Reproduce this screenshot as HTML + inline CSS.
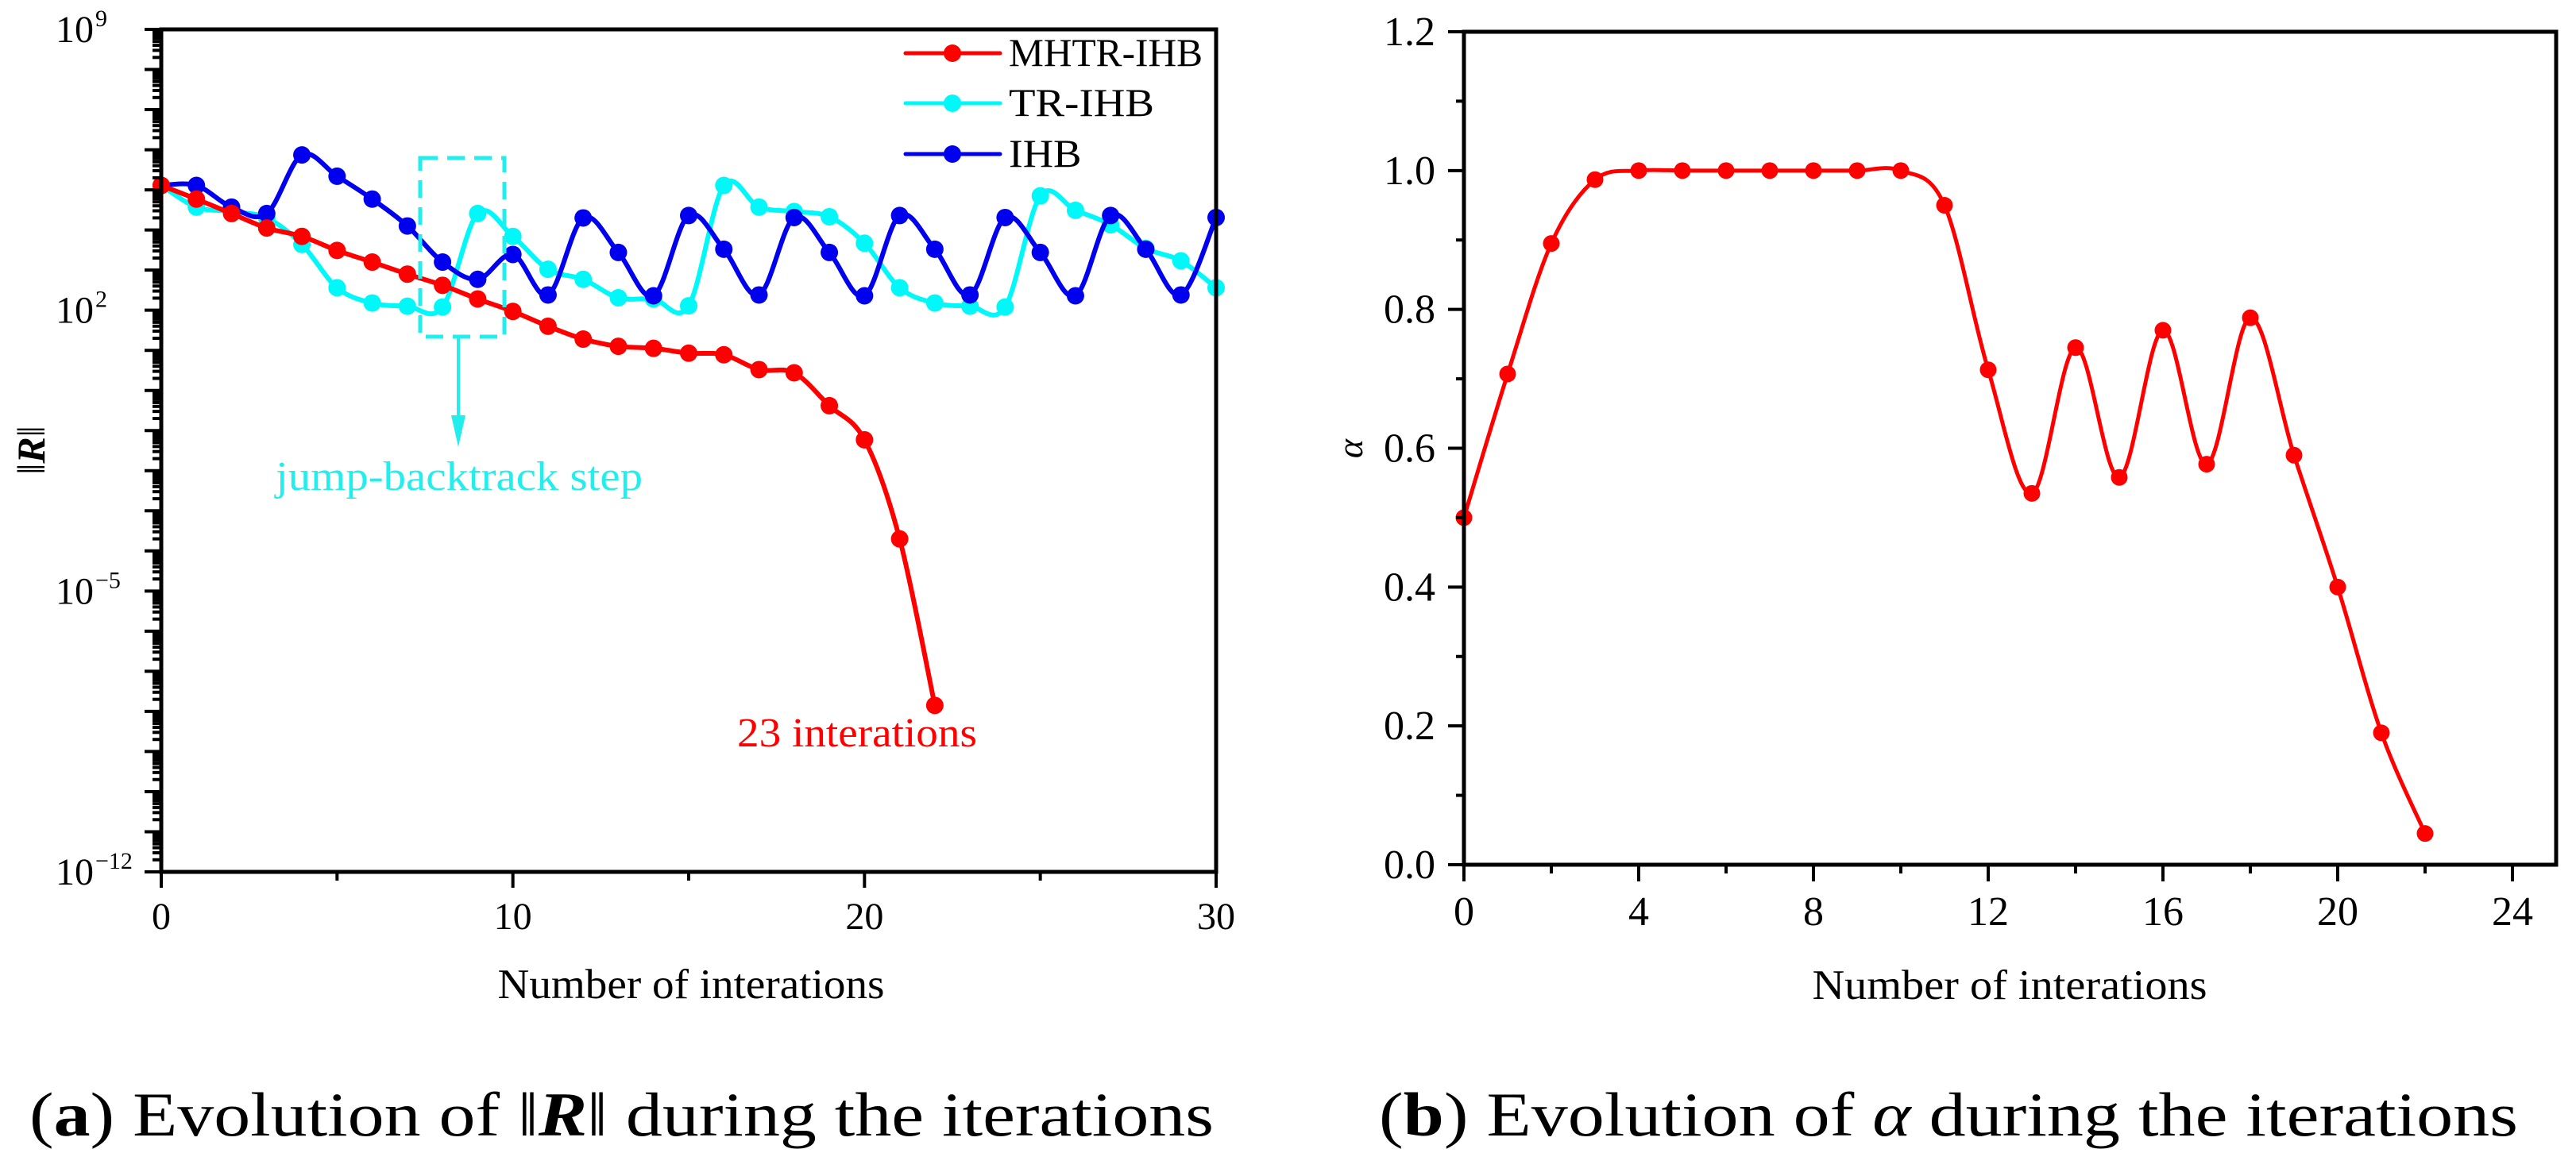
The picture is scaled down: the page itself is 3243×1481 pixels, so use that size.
<!DOCTYPE html>
<html><head><meta charset="utf-8"><style>
body{margin:0;background:#fff}
svg{display:block;font-family:"Liberation Serif",serif}
</style></head><body>
<svg id="c" width="3243" height="1481" viewBox="0 0 3243 1481" xmlns="http://www.w3.org/2000/svg">
<g id="L"></g>
<g id="Rt"></g>
<text x="37" y="1430" font-size="78" textLength="1491" lengthAdjust="spacingAndGlyphs">(<tspan font-weight="bold">a</tspan>) Evolution of  ‖<tspan font-weight="bold" font-style="italic">R</tspan>‖  during the iterations</text>
<text x="1736" y="1430" font-size="78" textLength="1434" lengthAdjust="spacingAndGlyphs">(<tspan font-weight="bold">b</tspan>) Evolution of  <tspan font-style="italic">α</tspan>  during the iterations</text>
</svg>
<script>
const iterX = [0,1,2,3,4,5,6,7,8,9,10,11,12,13,14,15,16,17,18,19,20,21,22,23,24,25,26,27,28,29,30];
const mhtrLog = [5.11,4.77,4.41,4.05,3.84,3.49,3.2,2.9,2.62,2.28,1.97,1.6,1.28,1.1,1.05,0.93,0.89,0.52,0.44,-0.38,-1.23,-3.7,-7.85];
const trLog = [5.11,4.57,4.46,4.3,3.64,2.56,2.18,2.1,2.08,4.41,3.84,3.02,2.77,2.31,2.28,2.11,5.11,4.57,4.46,4.33,3.67,2.56,2.18,2.1,2.08,4.85,4.49,4.13,3.54,3.23,2.56];
const ihbLog = [5.11,5.11,4.57,4.41,5.87,5.34,4.77,4.1,3.2,2.77,3.39,2.38,4.3,3.44,2.36,4.36,3.52,2.38,4.31,3.44,2.36,4.36,3.52,2.38,4.31,3.44,2.36,4.36,3.52,2.38,4.31];
const leftXTicks = [0,10,20,30];
const leftYTicks = [9,2,-5,-12];
const alphaVals = [0.5,0.707,0.895,0.987,1,1,1,1,1,1,1,0.95,0.713,0.535,0.745,0.558,0.77,0.577,0.788,0.59,0.4,0.19,0.045];
const rightXTicks = [0,4,8,12,16,20,24];
const rightYTicks = [0,0.2,0.4,0.6,0.8,1.0,1.2];

const NS="http://www.w3.org/2000/svg";
function mk(p,tag,attrs,txt){const e=document.createElementNS(NS,tag);for(const k in attrs)e.setAttribute(k,attrs[k]);if(txt!==undefined)e.textContent=txt;p.appendChild(e);return e;}
function spline(pts){let d="M"+pts[0][0]+","+pts[0][1];for(let i=0;i<pts.length-1;i++){const p0=pts[Math.max(i-1,0)],p1=pts[i],p2=pts[i+1],p3=pts[Math.min(i+2,pts.length-1)];const c1=[p1[0]+(p2[0]-p0[0])/6,p1[1]+(p2[1]-p0[1])/6],c2=[p2[0]-(p3[0]-p1[0])/6,p2[1]-(p3[1]-p1[1])/6];d+=" C"+c1+" "+c2+" "+p2;}return d;}

// Left chart
const L=document.getElementById('L');
const LX0=203,LX1=1531,LY0=37,LY1=1098;
const lx=v=>LX0+v/30*(LX1-LX0);
const ly=v=>LY0+(9-v)/21*(LY1-LY0);
function series(g,xs,ys,color,name,r){
  const pts=ys.map((v,i)=>[lx(xs[i]),ly(v)]);
  const p=mk(g,'path',{d:spline(pts),fill:'none',stroke:color,'stroke-width':6});
  
  
  pts.forEach(q=>{const c=mk(g,'circle',{cx:q[0],cy:q[1],r:r,fill:color});
    
    });
}
const defs=mk(L,'defs',{});const cp=mk(defs,'clipPath',{id:'lc'});mk(cp,'rect',{x:190,y:30,width:LX1-190+15,height:1080});
const lg=mk(L,'g',{'clip-path':'url(#lc)'});
series(lg,iterX,trLog,'#00f8f8','tr-ihb',11);
series(lg,iterX,ihbLog,'#0000ee','ihb',11);
series(lg,iterX,mhtrLog,'#ff0000','mhtr-ihb',11);
let fr=mk(L,'rect',{x:LX0,y:LY0,width:LX1-LX0,height:LY1-LY0,fill:'none',stroke:'#000','stroke-width':5});

for(let dcd=-12;dcd<9;dcd++){for(let m=1;m<10;m++){const v=dcd+Math.log10(m);const y=ly(v);
  const len=m===1?21:11; mk(L,'line',{x1:LX0,y1:y,x2:LX0-len,y2:y,stroke:'#000','stroke-width':4});}}
mk(L,'line',{x1:LX0,y1:LY0,x2:LX0-21,y2:LY0,stroke:'#000','stroke-width':4});
leftYTicks.forEach(t=>{const y=ly(t);
  const tx=mk(L,'text',{x:118,y:y+16,'font-size':48,'text-anchor':'end'},'10');
  
  mk(L,'text',{x:120,y:y-4,'font-size':30},t<0?'−'+(-t):String(t));});
for(let v=0;v<=30;v+=5){const x=lx(v);mk(L,'line',{x1:x,y1:LY1,x2:x,y2:v%10===0?LY1+20:LY1+11,stroke:'#000','stroke-width':4});}
leftXTicks.forEach(t=>{const tx=mk(L,'text',{x:lx(t),y:1170,'font-size':48,'text-anchor':'middle'},String(t));
  });
let t1=mk(L,'text',{x:870,y:1257,'font-size':53,'text-anchor':'middle',textLength:487,lengthAdjust:'spacingAndGlyphs'},'Number of interations');

let t2=mk(L,'text',{x:0,y:0,'font-size':50,'text-anchor':'middle',transform:'translate(56,567) rotate(-90)'});
t2.innerHTML='‖<tspan font-weight="bold" font-style="italic">R</tspan>‖';

[['MHTR-IHB','#ff0000',67],['TR-IHB','#00f8f8',130],['IHB','#0000ee',194]].forEach(([n,c,y])=>{
  const g=mk(L,'g',{});
  mk(g,'line',{x1:1140,y1:y,x2:1259,y2:y,stroke:c,'stroke-width':5,'stroke-linecap':'round'});
  mk(g,'circle',{cx:1199,cy:y,r:11,fill:c});
  mk(g,'text',{x:1270,y:y+16,'font-size':50,textLength:n.length*30.5,lengthAdjust:'spacingAndGlyphs'},n);});
let rb=mk(L,'rect',{x:529,y:199,width:106,height:225,fill:'none',stroke:'#22eeee','stroke-width':5,'stroke-dasharray':'22,12'});

mk(L,'line',{x1:577,y1:424,x2:577,y2:545,stroke:'#22eeee','stroke-width':4});
mk(L,'path',{d:'M568,523 L577,563 L586,523 Z',fill:'#22eeee'});
let a1=mk(L,'text',{x:347,y:617,'font-size':52,fill:'#22eeee',textLength:462,lengthAdjust:'spacingAndGlyphs'},'jump-backtrack  step');

let a2=mk(L,'text',{x:928,y:940,'font-size':52,fill:'#ff0000',textLength:302,lengthAdjust:'spacingAndGlyphs'},'23 interations');


// Right chart
const R=document.getElementById('Rt');
const RX0=1843,RY0=40,RY1=1089,RXR=3218;
const rx=v=>RX0+v/24*(3163-RX0);
const ry=v=>RY1-v/1.2*(RY1-RY0);
const apts=alphaVals.map((v,i)=>[rx(iterX[i]),ry(v)]);
let ap=mk(R,'path',{d:spline(apts),fill:'none',stroke:'#ff0000','stroke-width':5});

apts.forEach(q=>{const c=mk(R,'circle',{cx:q[0],cy:q[1],r:10.5,fill:'#ff0000'});
  });
let fr2=mk(R,'rect',{x:RX0,y:RY0,width:RXR-RX0,height:RY1-RY0,fill:'none',stroke:'#000','stroke-width':5});

for(let i=0;i<=12;i++){const y=ry(i/10);mk(R,'line',{x1:RX0,y1:y,x2:i%2===0?RX0-20:RX0-10,y2:y,stroke:'#000','stroke-width':4});}
rightYTicks.forEach(t=>{const tx=mk(R,'text',{x:1807,y:ry(t)+17,'font-size':52,'text-anchor':'end'},t.toFixed(1));
  });
for(let v=0;v<=24;v+=2){const x=rx(v);mk(R,'line',{x1:x,y1:RY1,x2:x,y2:v%4===0?RY1+21:RY1+11,stroke:'#000','stroke-width':4});}
rightXTicks.forEach(t=>{const tx=mk(R,'text',{x:rx(t),y:1165,'font-size':52,'text-anchor':'middle'},String(t));
  });
let t3=mk(R,'text',{x:2530,y:1258,'font-size':53,'text-anchor':'middle',textLength:497,lengthAdjust:'spacingAndGlyphs'},'Number of interations');

let t4=mk(R,'text',{x:0,y:0,'font-size':46,'font-style':'italic','text-anchor':'middle',transform:'translate(1715,565) rotate(-90)'},'α');

</script>
</body></html>
